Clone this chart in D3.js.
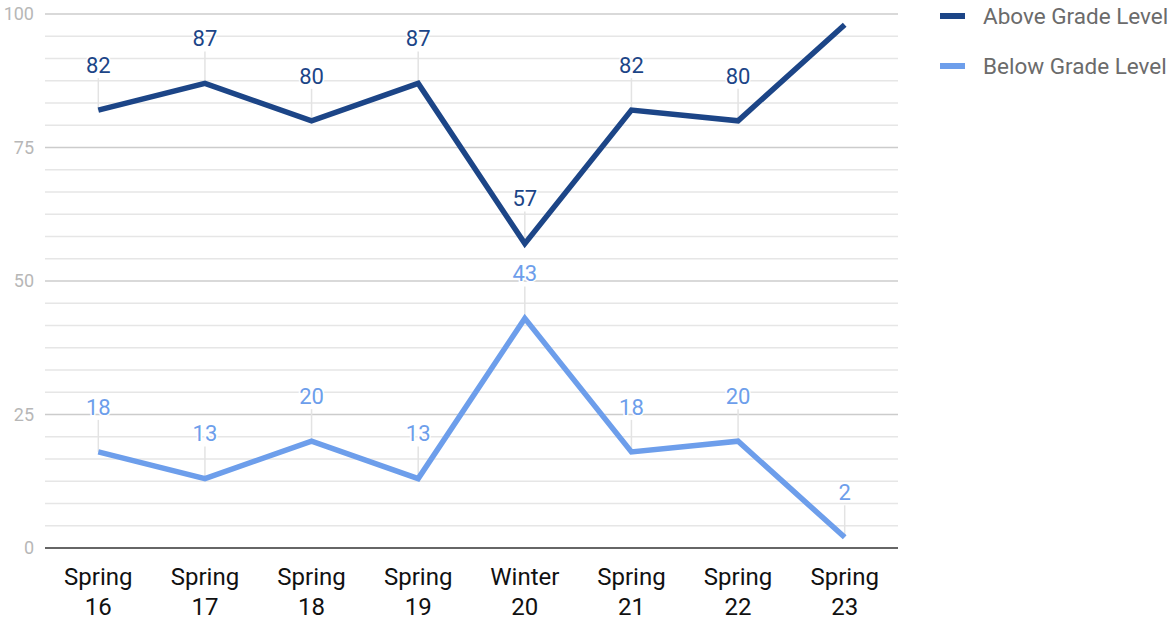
<!DOCTYPE html>
<html>
<head>
<meta charset="utf-8">
<style>
body { margin: 0; background: #fff; }
svg { font-family: Roboto, "Noto Sans", sans-serif; }
</style>
<script src="https://cdn.jsdelivr.net/npm/d3@7"></script>
</head>
<body>
<svg id="chart" width="1171" height="620"></svg>
<script>
var terms = ["Spring 16", "Spring 17", "Spring 18", "Spring 19", "Winter 20", "Spring 21", "Spring 22", "Spring 23"];
var above = [82, 87, 80, 87, 57, 82, 80, 98];
var below = [18, 13, 20, 13, 43, 18, 20, 2];
var seriesNames = ["Above Grade Level", "Below Grade Level"];
var seriesColors = ["#1c4587", "#6d9eeb"];
var yTicks = [0, 25, 50, 75, 100];

var svg = d3.select("#chart"),
    plotL = 45, plotR = 898, plotT = 14, plotB = 548;

var x = d3.scaleBand().domain(terms).range([plotL, plotR]),
    y = d3.scaleLinear().domain([0, 100]).range([plotB, plotT]);

// minor grid every 25/6
var minor = d3.range(0, 24).map(function(i){ return i * 25 / 6; }).filter(function(v){ return v % 25 > 0.01; });
svg.append("g").selectAll("line").data(minor).join("line")
  .attr("x1", plotL).attr("x2", plotR)
  .attr("y1", function(d){ return y(d); }).attr("y2", function(d){ return y(d); })
  .attr("stroke", "#e6e6e6").attr("stroke-width", 1.5);

svg.append("g").selectAll("line").data(yTicks.slice(1)).join("line")
  .attr("x1", plotL).attr("x2", plotR)
  .attr("y1", function(d){ return y(d); }).attr("y2", function(d){ return y(d); })
  .attr("stroke", "#cccccc").attr("stroke-width", 1.5);

svg.append("g").selectAll("text").data(yTicks).join("text")
  .attr("x", 34).attr("y", function(d){ return y(d); })
  .attr("dy", "0.35em").attr("text-anchor", "end")
  .attr("font-size", 18).attr("fill", "#b7b7b7")
  .text(function(d){ return d; });

// leader lines and data labels
var all = [above, below];
all.forEach(function(vals, si) {
  var g = svg.append("g");
  vals.forEach(function(v, i) {
    var cx = x(terms[i]) + x.bandwidth() / 2, py = y(v);
    if (py - 45 < 10) return;
    g.append("line")
      .attr("x1", cx).attr("x2", cx)
      .attr("y1", py - 32).attr("y2", py)
      .attr("stroke", "#e3e3e3").attr("stroke-width", 1.5);
    g.append("text")
      .attr("x", cx).attr("y", py - 45).attr("dy", "0.35em")
      .attr("text-anchor", "middle").attr("font-size", 22)
      .attr("fill", seriesColors[si])
      .style("paint-order", "stroke").attr("stroke", "#fff").attr("stroke-width", 3)
      .text(v);
  });
});

// baseline
svg.append("line").attr("x1", plotL).attr("x2", plotR)
  .attr("y1", y(0)).attr("y2", y(0)).attr("stroke", "#333").attr("stroke-width", 1.5);

var line = d3.line()
  .x(function(d, i){ return x(terms[i]) + x.bandwidth() / 2; })
  .y(function(d){ return y(d); });

all.forEach(function(vals, si) {
  svg.append("path").datum(vals)
    .attr("d", line).attr("fill", "none")
    .attr("stroke", seriesColors[si]).attr("stroke-width", 5.5)
    .attr("stroke-linejoin", "miter");
});

// x labels
var xl = svg.append("g").selectAll("text").data(terms).join("text")
  .attr("x", function(d){ return x(d) + x.bandwidth() / 2; })
  .attr("y", 585).attr("text-anchor", "middle")
  .attr("font-size", 24).attr("fill", "#111");
xl.each(function(d) {
  var parts = d.split(" "), t = d3.select(this);
  t.append("tspan").attr("x", t.attr("x")).attr("dy", 0).text(parts[0]);
  t.append("tspan").attr("x", t.attr("x")).attr("dy", 30).text(parts[1]);
});

// legend
var lg = svg.append("g").selectAll("g").data(seriesNames).join("g")
  .attr("transform", function(d, i){ return "translate(940," + (16 + i * 50) + ")"; });
lg.append("rect").attr("x", 0).attr("y", -3).attr("width", 25).attr("height", 6)
  .attr("fill", function(d, i){ return seriesColors[i]; });
lg.append("text").attr("x", 43).attr("dy", "0.35em")
  .attr("font-size", 22.5).attr("fill", "#6b6b6b")
  .text(function(d){ return d; });
</script>
</body>
</html>
